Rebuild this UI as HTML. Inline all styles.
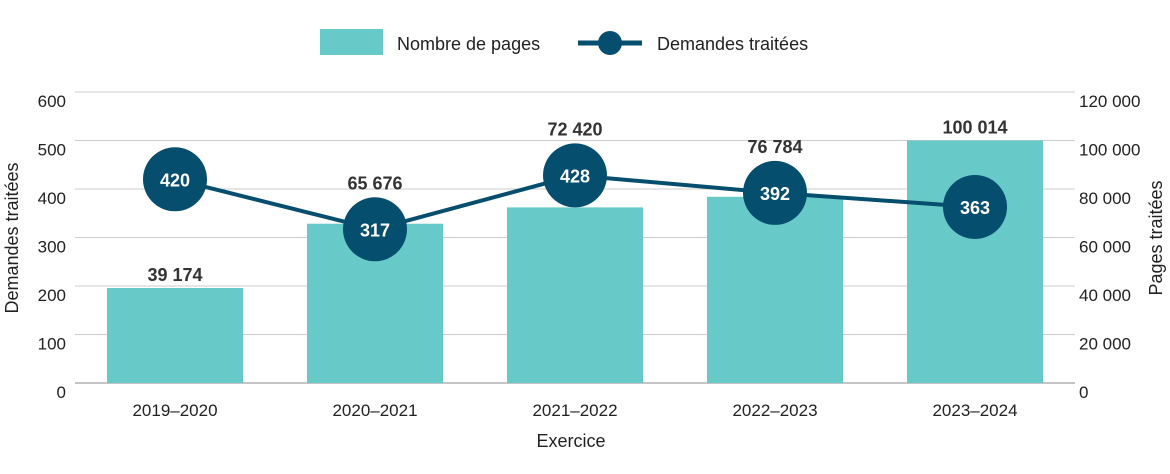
<!DOCTYPE html>
<html><head><meta charset="utf-8"><style>
body{margin:0;background:#fff;}
svg text{font-family:"Liberation Sans",sans-serif;}
</style></head><body>
<svg id="c" width="1170" height="469" viewBox="0 0 1170 469" xmlns="http://www.w3.org/2000/svg">
<g>
<rect x="320" y="29" width="63" height="26" fill="#67c9c8"/>
<text x="397" y="50" font-size="18" fill="#222">Nombre de pages</text>
<line x1="578" y1="43" x2="642" y2="43" stroke="#064e6e" stroke-width="5"/>
<circle cx="610" cy="43" r="12" fill="#064e6e"/>
<text x="657" y="50" font-size="18" fill="#222">Demandes traitées</text>
</g>
<g id="grid"></g><g id="bars"></g><g id="line"></g><g id="labels"></g>
<text x="571" y="447" font-size="18" fill="#222" text-anchor="middle">Exercice</text>
<text transform="translate(18,238) rotate(-90)" font-size="18" fill="#222" text-anchor="middle">Demandes traitées</text>
<text transform="translate(1162,238) rotate(-90)" font-size="18" fill="#222" text-anchor="middle">Pages traitées</text>
</svg>
<script>
const categories=["2019–2020","2020–2021","2021–2022","2022–2023","2023–2024"];
const pages=[39174,65676,72420,76784,100014];
const pageLabels=["39 174","65 676","72 420","76 784","100 014"];
const requests=[420,317,428,392,363];
const leftTicks=[0,100,200,300,400,500,600];
const rightTickLabels=["0","20 000","40 000","60 000","80 000","100 000","120 000"];
const NS="http://www.w3.org/2000/svg";
const x0=75,x1=1075,yB=383,yT=92;
const yL=v=>yB-(v/600)*(yB-yT);
const yR=v=>yB-(v/120000)*(yB-yT);
const xc=i=>x0+(i+0.5)*(x1-x0)/categories.length;
function mk(t,a,p){const e=document.createElementNS(NS,t);for(const k in a)e.setAttribute(k,a[k]);p.appendChild(e);return e;}
const g=document.getElementById('grid'),b=document.getElementById('bars'),l=document.getElementById('line'),lb=document.getElementById('labels');
leftTicks.forEach((t,i)=>{
 const y=yL(t);
 const gl=mk('line',{x1:x0,x2:x1,y1:y,y2:y,stroke:t===0?'#888':'#ccc','stroke-width':1},g);
 
 
 const tl=mk('text',{x:66,y:y+15,'font-size':17,fill:'#222','text-anchor':'end'},g);tl.textContent=t;
 
 
 const tr=mk('text',{x:1079,y:y+15,'font-size':17,fill:'#222'},g);tr.textContent=rightTickLabels[i];
 
 
});
categories.forEach((c,i)=>{
 const t=mk('text',{x:xc(i),y:416,'font-size':17,fill:'#222','text-anchor':'middle'},g);t.textContent=c;
 
 
 const top=yR(pages[i]);
 const r=mk('rect',{x:xc(i)-68,y:top,width:136,height:yB-top,fill:'#67c9c8'},b);
 
 
});
const pts=requests.map((v,i)=>xc(i)+','+yL(v)).join(' ');
const pl=mk('polyline',{points:pts,fill:'none',stroke:'#064e6e','stroke-width':4},l);


requests.forEach((v,i)=>{
 const cy=yL(v);
 const ci=mk('circle',{cx:xc(i),cy:cy,r:32,fill:'#064e6e'},l);
 
 
 const t=mk('text',{x:xc(i),y:cy+7,'font-size':18,'font-weight':'bold',fill:'#fff','text-anchor':'middle'},l);t.textContent=v;
 
 
 let top=yR(pages[i]);
 if(cy+33>top-25&&cy-33<top)top=Math.min(top,cy-33);
 const pt=mk('text',{x:xc(i),y:top-7,'font-size':18,'font-weight':'bold',fill:'#333','text-anchor':'middle'},lb);pt.textContent=pageLabels[i];
 
 
});
</script>
</body></html>
